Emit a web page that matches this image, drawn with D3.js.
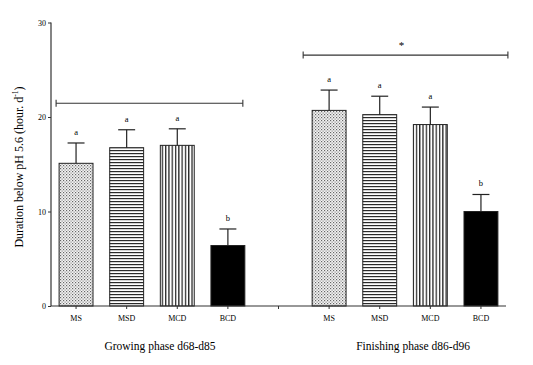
<!DOCTYPE html>
<html><head><meta charset="utf-8">
<script src="https://cdn.jsdelivr.net/npm/d3@7"></script>
<style>body{margin:0;background:#fff;-webkit-font-smoothing:antialiased}svg{display:block}text{font-family:"Liberation Serif","Times New Roman",serif;fill:#000}</style>
</head><body><div id="chart"></div>
<script>
const treatments = ["MS","MSD","MCD","BCD"];
const phases = ["Growing phase d68-d85","Finishing phase d86-d96"];
const growingMeans = [15.1, 16.75, 17.0, 6.4];
const growingErrs  = [2.15, 1.9, 1.75, 1.75];
const finishingMeans = [20.7, 20.25, 19.2, 10.0];
const finishingErrs  = [2.15, 1.95, 1.85, 1.8];
const growingLetters = ["a","a","a","b"];
const finishingLetters = ["a","a","a","b"];
const bracketLevels = [21.45, 26.55];
const bracketMarks = ["", "*"];
const yTicks = [0,10,20,30];
const yLabel = "Duration below pH 5.6 (hour. d";

const W = 533, H = 365;
const svg = d3.select("#chart").append("svg").attr("width", W).attr("height", H);
const defs = svg.append("defs");
const p1 = defs.append("pattern").attr("id","pMS").attr("patternUnits","userSpaceOnUse").attr("width",3).attr("height",3);
p1.append("rect").attr("width",3).attr("height",3).attr("fill","#f4f4f4");
p1.append("rect").attr("x",0).attr("y",0).attr("width",1.2).attr("height",1.2).attr("fill","#666");
p1.append("rect").attr("x",1.5).attr("y",1.5).attr("width",1.2).attr("height",1.2).attr("fill","#888");
const p2 = defs.append("pattern").attr("id","pMSD").attr("patternUnits","userSpaceOnUse").attr("width",4).attr("height",3);
p2.append("rect").attr("width",4).attr("height",3).attr("fill","#fff");
p2.append("rect").attr("x",0).attr("y",0).attr("width",4).attr("height",1.2).attr("fill","#2a2a2a");
const p3 = defs.append("pattern").attr("id","pMCD").attr("patternUnits","userSpaceOnUse").attr("width",3.3).attr("height",4);
p3.append("rect").attr("width",3.3).attr("height",4).attr("fill","#fff");
p3.append("rect").attr("x",0).attr("y",0).attr("width",1.3).attr("height",4).attr("fill","#2a2a2a");
const fills = {MS:"url(#pMS)",MSD:"url(#pMSD)",MCD:"url(#pMCD)",BCD:"#000"};

const slots = [...treatments.map(t=>"g_"+t), "gap", ...treatments.map(t=>"f_"+t)];
const x = d3.scaleBand().domain(slots).range([51, 506]).paddingInner(0.33).paddingOuter(0.16);
const y = d3.scaleLinear().domain([0,30]).range([306, 22.5]);

const data = [];
treatments.forEach((t,i)=>data.push({slot:"g_"+t,t,v:growingMeans[i],e:growingErrs[i],l:growingLetters[i]}));
treatments.forEach((t,i)=>data.push({slot:"f_"+t,t,v:finishingMeans[i],e:finishingErrs[i],l:finishingLetters[i]}));

const bw = x.bandwidth();
svg.append("g").selectAll("rect").data(data).join("rect")
  .attr("x", d=>x(d.slot)).attr("y", d=>y(d.v))
  .attr("width", bw).attr("height", d=>y(0)-y(d.v))
  .attr("fill", d=>fills[d.t]).attr("stroke","#222").attr("stroke-width",1);
const eg = svg.append("g").attr("stroke","#222").attr("stroke-width",1.2);
data.forEach(d=>{
  const cx = x(d.slot)+bw/2;
  eg.append("line").attr("x1",cx).attr("x2",cx).attr("y1",y(d.v)).attr("y2",y(d.v+d.e));
  eg.append("line").attr("x1",cx-bw/4).attr("x2",cx+bw/4).attr("y1",y(d.v+d.e)).attr("y2",y(d.v+d.e));
});
svg.append("g").selectAll("text").data(data).join("text")
  .attr("x", d=>x(d.slot)+bw/2).attr("y", d=>y(d.v+d.e)-8)
  .attr("text-anchor","middle").attr("font-size",8.5).attr("fill","#000").text(d=>d.l);

const yAxis = d3.axisLeft(y).tickValues(yTicks).tickSize(3).tickPadding(2);
const ya = svg.append("g").attr("transform","translate(51,0)").call(yAxis);
ya.attr("font-family",null);
ya.select(".domain").attr("d","M0,"+y(30)+"V"+y(0)).attr("stroke","#333").attr("stroke-width",1.2);
ya.selectAll(".tick line").attr("stroke","#333");
ya.selectAll("text").attr("font-size",8).attr("fill","#222");

const xAxis = d3.axisBottom(x).tickSize(3).tickPadding(6).tickFormat(s=>s==="gap"?"":s.slice(2));
const xa = svg.append("g").attr("transform","translate(0,306)").call(xAxis);
xa.attr("font-family",null);
xa.select(".domain").attr("d","M51,0H506").attr("stroke","#333").attr("stroke-width",1.2);
xa.selectAll(".tick line").attr("stroke","#333");
xa.selectAll("text").attr("font-size",8).attr("fill","#222");

const groupCenters = [
  (x("g_MS") + x("g_BCD") + bw)/2,
  (x("f_MS") + x("f_BCD") + bw)/2
];
svg.append("g").selectAll("text").data(phases).join("text")
  .attr("x",(d,i)=>groupCenters[i]+8).attr("y",350)
  .attr("text-anchor","middle").attr("font-size",11.5).attr("fill","#000").text(d=>d);

const bracketSpans = [
  [x("g_MS")-3, x("g_BCD")+bw-2],
  [x("f_MS")-9, x("f_BCD")+bw+10]
];
const bg = svg.append("g").attr("stroke","#333").attr("stroke-width",1.1);
bracketLevels.forEach((lv,i)=>{
  const [a,b] = bracketSpans[i];
  const yy = y(lv);
  bg.append("line").attr("x1",a).attr("x2",b).attr("y1",yy).attr("y2",yy);
  bg.append("line").attr("x1",a).attr("x2",a).attr("y1",yy-3.5).attr("y2",yy+3.5);
  bg.append("line").attr("x1",b).attr("x2",b).attr("y1",yy-3.5).attr("y2",yy+3.5);
  if (bracketMarks[i]) svg.append("text").attr("x",(a+b)/2-4).attr("y",yy-6)
    .attr("text-anchor","middle").attr("font-size",11).attr("fill","#000").text(bracketMarks[i]);
});

const yl = svg.append("text").attr("transform","translate(23,167) rotate(-90)")
  .attr("text-anchor","middle").attr("font-size",12).attr("fill","#000");
yl.append("tspan").text(yLabel);
yl.append("tspan").attr("font-size",7.5).attr("dy",-5).text("-1");
yl.append("tspan").attr("dy",5).text(")");
</script></body></html>
